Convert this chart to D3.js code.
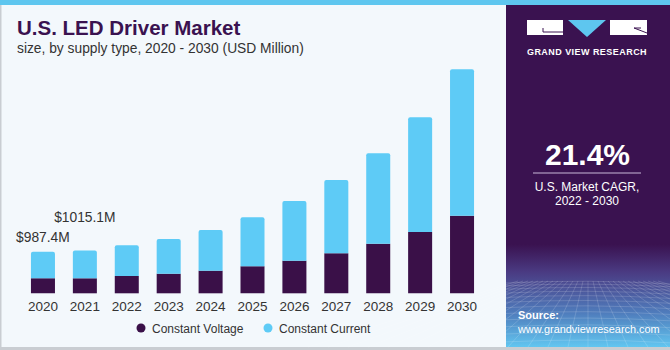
<!DOCTYPE html>
<html><head><meta charset="utf-8">
<script src="https://cdn.jsdelivr.net/npm/d3@7"></script>
<style>
html,body{margin:0;padding:0;background:#fff;}
svg{display:block;font-family:"Liberation Sans",Arial,sans-serif;}
</style></head>
<body><svg id="c" width="670" height="350"></svg>
<script>
const years = ["2020","2021","2022","2023","2024","2025","2026","2027","2028","2029","2030"];
const constantVoltage = [356, 356, 411, 465, 537, 641, 774, 950, 1178, 1456, 1843];
const constantCurrent = [631, 659, 729, 825, 966, 1164, 1418, 1741, 2147, 2724, 3477];
const seriesNames = ["Constant Voltage", "Constant Current"];
const valueLabels = [{year:"2020", text:"$987.4M", total:987.4}, {year:"2021", text:"$1015.1M", total:1015.1}];

const svg = d3.select("#c");
const dark = "#3a1048", light = "#5ecbf6";

// backgrounds
svg.append("rect").attr("x",0).attr("y",0).attr("width",670).attr("height",350).attr("fill","#f3f8fc");
svg.append("rect").attr("x",0).attr("y",0).attr("width",1.5).attr("height",350).attr("fill","#c9cdd2");
svg.append("rect").attr("x",0).attr("y",347).attr("width",670).attr("height",3).attr("fill","#c9cdd2");
svg.append("rect").attr("x",0).attr("y",0).attr("width",670).attr("height",5).attr("fill","#5ec6ef");

// right panel
const defs = svg.append("defs");
const g = defs.append("linearGradient").attr("id","pg").attr("x1",0).attr("y1",0).attr("x2",0).attr("y2",1);
[[0,"#3a1250"],[0.7,"#3a1250"],[0.78,"#4a3a82"],[0.9,"#4f7cbc"],[1,"#62c6f0"]].forEach(s=>g.append("stop").attr("offset",s[0]).attr("stop-color",s[1]));
const px0 = 506, px1 = 670, py0 = 5, py1 = 347;
svg.append("rect").attr("x",px0).attr("y",py0).attr("width",px1-px0).attr("height",py1-py0).attr("fill","url(#pg)");
// grid texture
const grid = svg.append("g").attr("stroke","#ffffff").attr("stroke-opacity",0.22).attr("stroke-width",0.7).attr("fill","none");
for(let i=0;i<16;i++){ const y = 283 + i*i*0.25 + i*2.6; if(y<347) grid.append("path").attr("d",`M${px0},${y} Q588,${y-4} ${px1},${y+1}`); }
for(let i=-14;i<=14;i++){ grid.append("line").attr("x1",588+i*5).attr("y1",281).attr("x2",588+i*20).attr("y2",347); }

// logo
svg.append("rect").attr("x",527).attr("y",20).attr("width",36).attr("height",15).attr("fill","#fff");
svg.append("path").attr("d","M543,28 V32 H563").attr("stroke","#3a1250").attr("stroke-width",1).attr("fill","none");
svg.append("path").attr("d","M568,20 H606 L587,37 Z").attr("fill","#5ec6ef");
svg.append("rect").attr("x",610).attr("y",20).attr("width",37).attr("height",15).attr("fill","#fff");
svg.append("path").attr("d","M634,28 L647,33 M634,28 H641").attr("stroke","#3a1250").attr("stroke-width",1).attr("fill","none");
svg.append("text").attr("x",587).attr("y",54.5).attr("text-anchor","middle").attr("fill","#fff")
  .attr("font-size",9).attr("font-weight","bold").attr("letter-spacing",0.45).text("GRAND VIEW RESEARCH");

// CAGR
svg.append("text").attr("x",587.5).attr("y",165).attr("text-anchor","middle").attr("fill","#fff")
  .attr("font-size",30).attr("font-weight","bold").text("21.4%");
svg.append("line").attr("x1",533).attr("x2",641).attr("y1",173).attr("y2",173).attr("stroke","#c9b8d8").attr("stroke-width",1);
svg.append("text").attr("x",587).attr("y",191).attr("text-anchor","middle").attr("fill","#fff").attr("font-size",12).text("U.S. Market CAGR,");
svg.append("text").attr("x",587).attr("y",205).attr("text-anchor","middle").attr("fill","#fff").attr("font-size",12).text("2022 - 2030");

// source
svg.append("text").attr("x",518).attr("y",319).attr("fill","#fff").attr("font-size",11).attr("font-weight","bold").text("Source:");
svg.append("text").attr("x",518).attr("y",332.5).attr("fill","#fff").attr("font-size",10.9).text("www.grandviewresearch.com");

// title
svg.append("text").attr("x",17).attr("y",35).attr("fill","#3a1250").attr("font-size",20.5).attr("font-weight","bold").text("U.S. LED Driver Market");
svg.append("text").attr("x",17).attr("y",53).attr("fill","#333").attr("font-size",13.8).text("size, by supply type, 2020 - 2030 (USD Million)");

// scales
const x = d3.scaleBand().domain(years).range([10, 495]).paddingInner(0.427).paddingOuter(0.5);
const y = d3.scaleLinear().domain([0, 5500]).range([293.3, 61.7]);

const data = years.map((yr,i)=>({year:yr, cv:constantVoltage[i], cc:constantCurrent[i]}));
const stack = d3.stack().keys(["cv","cc"])(data);
const colors = [dark, light];

function topRounded(x0,y0,w,h,r){
  r = Math.min(r,h);
  return `M${x0},${y0+h} V${y0+r} Q${x0},${y0} ${x0+r},${y0} H${x0+w-r} Q${x0+w},${y0} ${x0+w},${y0+r} V${y0+h} Z`;
}
stack.forEach((layer,li)=>{
  svg.append("g").selectAll("path").data(layer).join("path")
    .attr("d",d=>{
      const x0 = x(d.data.year), w = x.bandwidth(), y0 = y(d[1]), h = y(d[0]) - y(d[1]);
      return li===1 ? topRounded(x0,y0,w,h,2) : `M${x0},${y0} h${w} v${h} h${-w} Z`;
    })
    .attr("fill",colors[li]);
});

// axis
const ax = svg.append("g").attr("transform","translate(0,293.3)").call(d3.axisBottom(x).tickSize(0).tickPadding(8));
ax.select(".domain").remove();
ax.selectAll("text").attr("font-size",13.5).attr("fill","#333").attr("font-family","Liberation Sans, Arial, sans-serif");

// value labels
const offsets = {"2020":10, "2021":29};
svg.append("g").selectAll("text").data(valueLabels).join("text")
  .attr("x",d=>x(d.year)+x.bandwidth()/2)
  .attr("y",d=>y(d.total)-offsets[d.year])
  .attr("text-anchor","middle").attr("font-size",13.8).attr("fill","#333").text(d=>d.text);

// legend
const leg = svg.append("g");
const legX = [141, 268];
seriesNames.forEach((n,i)=>{
  leg.append("circle").attr("cx",legX[i]).attr("cy",328).attr("r",4.5).attr("fill",colors[i]);
  leg.append("text").attr("x",legX[i]+11).attr("y",332.5).attr("font-size",12).attr("fill","#333").text(n);
});
</script></body></html>
